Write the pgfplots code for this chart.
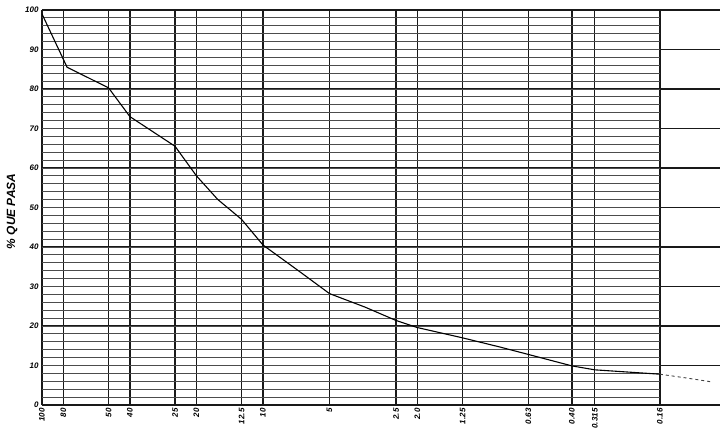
\documentclass[border=0pt]{standalone}
\usepackage{fontspec}
\setmainfont{Liberation Sans}
\usepackage{pgfplots}
\pgfplotsset{compat=1.18}
\begin{document}
\begin{tikzpicture}[x=1bp,y=1bp]
\begin{axis}[
  at={(0,0)}, anchor=south west,
  scale only axis, width=678bp, height=395bp,
  xmode=log, x dir=reverse,
  xmin=0.0855, xmax=100, ymin=0, ymax=100,
  xtick={100,80,50,40,25,20,12.5,10,5,2.5,2,1.25,0.63,0.4,0.315,0.16},
  xticklabels={100,80,50,40,25,20,12.5,10,5,2.5,2.0,1.25,0.63,0.40,0.315,0.16},
  minor xtick={},
  ytick={0,10,...,100},
  xticklabel style={rotate=90, anchor=east, font=\footnotesize\bfseries\itshape},
  yticklabel style={font=\footnotesize\bfseries\itshape},
  /pgf/number format/assume math mode=true,
  xmajorgrids, ymajorgrids,
  major grid style={black!90, line width=1.3pt},
  axis line style={draw=none},
  tick style={draw=none},
  ylabel={\% QUE PASA},
  ylabel style={at={(axis description cs:-0.044,0.49)}, anchor=center, font=\large\bfseries\itshape},
]
\pgfplotsinvokeforeach{2,4,...,98}{
  \draw[black!70, line width=0.9pt] (axis cs:100,#1) -- (axis cs:0.16,#1);
}
\addplot[black, line width=1.1pt] coordinates {
(100,99) (77,85.5) (50,80.3) (40,73) (25,65.5) (20,58) (16,52) (12.5,47)
(10,40.5) (6.8,33.7) (5,28.2) (3.46,24.8) (2.5,21.4) (2,19.6) (1.25,17)
(0.85,14.7) (0.63,12.8) (0.4,9.9) (0.315,8.9) (0.16,7.8)
};
\addplot[black!75, line width=0.9pt, dashed] coordinates {
(0.16,7.8) (0.12,6.8) (0.092,5.8)
};
\end{axis}
\pgfresetboundingbox
\path (-42bp,-35bp) rectangle (678bp,405bp);
\end{tikzpicture}
\end{document}
